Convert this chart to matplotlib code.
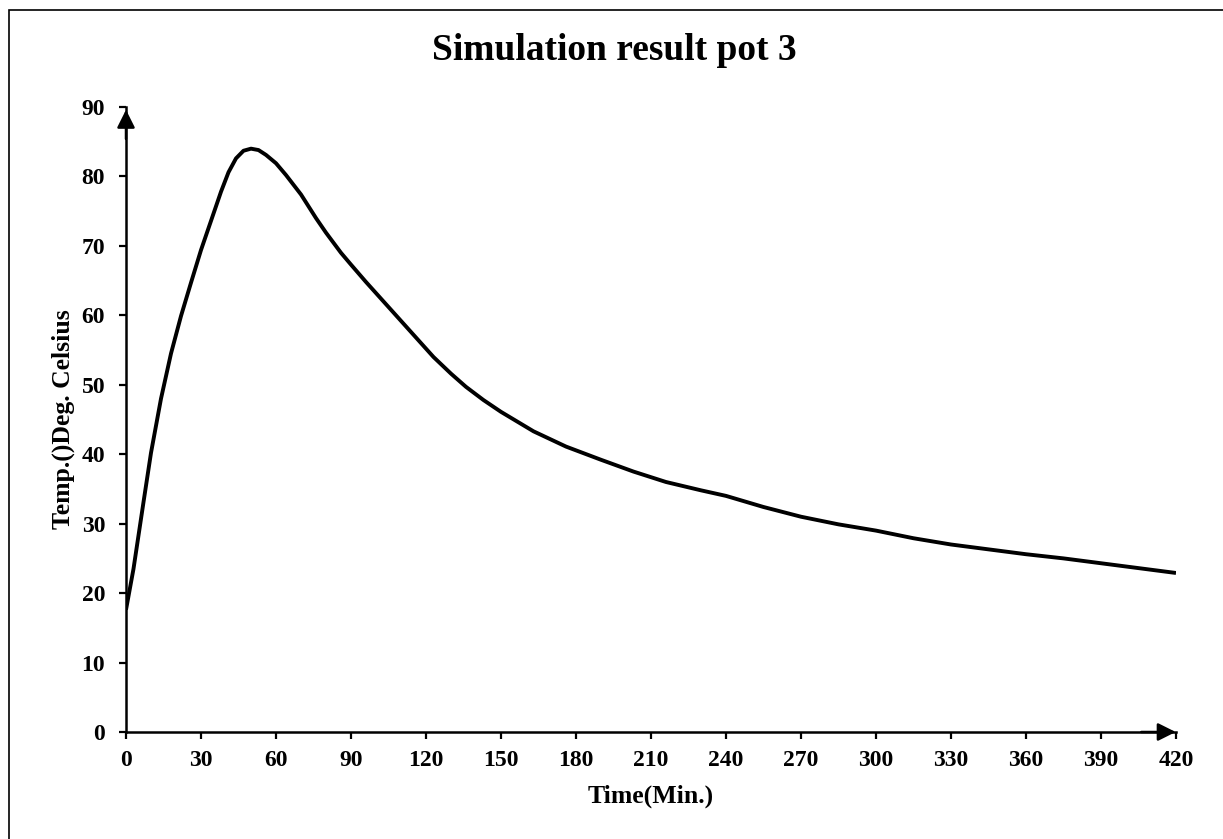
import matplotlib
matplotlib.use('Agg')
import matplotlib.pyplot as plt
from matplotlib.patches import Rectangle

# values
time_min = [0, 3, 7, 10, 14, 18, 22, 26, 30, 34, 38, 41, 44, 47, 50, 53, 56, 60, 64,
            70, 76, 80, 86, 90, 96, 103, 110, 116, 123, 130, 136, 143, 150, 163, 176,
            190, 203, 216, 230, 240, 255, 270, 285, 300, 315, 330, 345, 360, 375, 390,
            405, 420]
temp_c = [17.6, 23.5, 33.1, 40.2, 48.0, 54.5, 59.9, 64.7, 69.4, 73.6, 77.8, 80.6, 82.6,
          83.7, 84.0, 83.8, 83.1, 81.9, 80.2, 77.4, 74.0, 71.9, 69.0, 67.3, 64.8, 62.0,
          59.2, 56.8, 54.0, 51.6, 49.7, 47.8, 46.1, 43.3, 41.1, 39.2, 37.5, 36.0, 34.8,
          34.0, 32.4, 31.0, 29.9, 29.0, 27.9, 27.0, 26.3, 25.6, 25.0, 24.3, 23.6, 22.9]
x_ticks = list(range(0, 421, 30))
y_ticks = list(range(0, 91, 10))

title = 'Simulation result pot 3'
x_label = 'Time(Min.)'
y_label = 'Temp.()Deg. Celsius'

plt.rcParams['font.family'] = ['Liberation Serif', 'DejaVu Serif']
plt.rcParams['font.weight'] = 'bold'

W, H = 1223, 839
fig = plt.figure(figsize=(W / 100, H / 100), dpi=100)
ax = fig.add_axes([126 / W, 1 - 732 / H, (1176 - 126) / W, (732 - 107) / H])

ax.plot(time_min, temp_c, color='black', linewidth=2.8, solid_joinstyle='round',
        solid_capstyle='butt')

ax.set_xlim(0, 420)
ax.set_ylim(0, 90)
ax.set_xticks(x_ticks)
ax.set_yticks(y_ticks)
ax.tick_params(direction='out', length=5, width=1.6, labelsize=17)
ax.tick_params(axis='x', pad=8)
ax.tick_params(axis='y', pad=10)
for lab in ax.get_xticklabels() + ax.get_yticklabels():
    lab.set_fontweight('bold')

for side in ('top', 'right'):
    ax.spines[side].set_visible(False)
for side in ('left', 'bottom'):
    ax.spines[side].set_linewidth(1.8)

# arrow heads at the axis ends
ax.annotate('', xy=(0, 90), xytext=(0, 85), xycoords='data',
            arrowprops=dict(arrowstyle='-|>', color='black', lw=1.8, mutation_scale=27),
            annotation_clip=False)
ax.annotate('', xy=(421, 0), xytext=(405, 0), xycoords='data',
            arrowprops=dict(arrowstyle='-|>', color='black', lw=1.8, mutation_scale=27),
            annotation_clip=False)

ax.set_xlabel(x_label, fontsize=18.5, fontweight='bold', labelpad=10)
ax.set_ylabel(y_label, fontsize=18.5, fontweight='bold', labelpad=5)
fig.text(614 / W, 1 - 50 / H, title, ha='center', va='center', fontsize=27,
         fontweight='bold')

# outer frame, only the top and left edges fall inside the picture
fig.patches.append(Rectangle((9 / W, -0.05), 1.05, 1.05 - 10 / H, transform=fig.transFigure,
                             fill=False, edgecolor='black', linewidth=1.2))

fig.savefig('out.png', dpi=100)
